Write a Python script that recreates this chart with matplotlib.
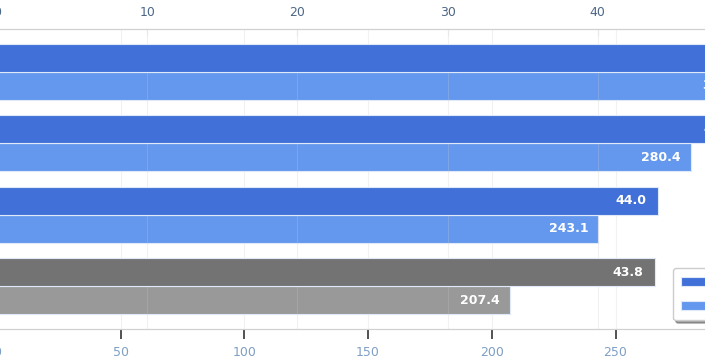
import numpy as np
import matplotlib.pyplot as plt

groups = ['A', 'B', 'C', 'Baseline']
time_vals = [52.5, 49.8, 44.0, 43.8]
mem_vals = [305.0, 280.4, 243.1, 207.4]
time_colors = ['#4170d8', '#4170d8', '#4170d8', '#737373']
mem_colors = ['#6498ee', '#6498ee', '#6498ee', '#999999']

fig = plt.figure(figsize=(7.05, 3.6), dpi=100)
# axes wider than the figure: the picture is a crop of a larger chart
W = 800
ax = fig.add_axes([-3 / 705, 31 / 360, W / 705, 300 / 360])
ax2 = ax.twiny()

y = np.arange(len(groups))
h = 0.39

b1 = ax2.barh(y - h / 2, time_vals, height=h, color=time_colors,
              edgecolor='#dfe9f7', linewidth=0.8, label='Time (s)', zorder=3)
b2 = ax.barh(y + h / 2, mem_vals, height=h, color=mem_colors,
             edgecolor='#dfe9f7', linewidth=0.8, label='Memory (MB)', zorder=3)

ax.set_xlim(0, W / 2.474)
ax2.set_xlim(0, W / 15.02)
ax.set_ylim(3.6, -0.6)
ax.set_yticks([])

for bar, v in zip(b1, time_vals):
    ax2.text(bar.get_width() - 0.75, bar.get_y() + bar.get_height() / 2,
             f'{v:.1f}', ha='right', va='center', color='white',
             fontsize=9, fontweight='bold', zorder=4)
for bar, v in zip(b2, mem_vals):
    ax.text(bar.get_width() - 4, bar.get_y() + bar.get_height() / 2,
            f'{v:.1f}', ha='right', va='center', color='white',
            fontsize=9, fontweight='bold', zorder=4)

# very faint grid from both axes
ax.set_xticks([0, 50, 100, 150, 200, 250, 300])
ax2.set_xticks([0, 10, 20, 30, 40, 50])
ax.grid(axis='x', color='#c8c8c8', alpha=0.25, linewidth=0.8)
ax2.grid(axis='x', color='#c8c8c8', alpha=0.25, linewidth=0.8)

for a in (ax, ax2):
    for s in a.spines.values():
        s.set_color('#d0d0d0')
    a.spines['left'].set_visible(False)
    a.spines['right'].set_visible(False)

ax.tick_params(axis='x', colors='#333333', labelcolor='#7f9fc4',
               labelsize=9, length=7, width=1.2, direction='out', pad=5)
ax2.tick_params(axis='x', colors='#e8e8e8', labelcolor='#4d6787',
                labelsize=9, length=5, direction='in', pad=7)

ax2.legend([b1, b2], ['Time (s)', 'Memory (MB)'], loc='upper left',
           bbox_to_anchor=(676 / W, 61 / 300), frameon=True, shadow=True,
           fontsize=9, borderpad=0.6, labelspacing=0.9, handlelength=2.2,
           borderaxespad=0)

fig.savefig('out.png', dpi=100)
